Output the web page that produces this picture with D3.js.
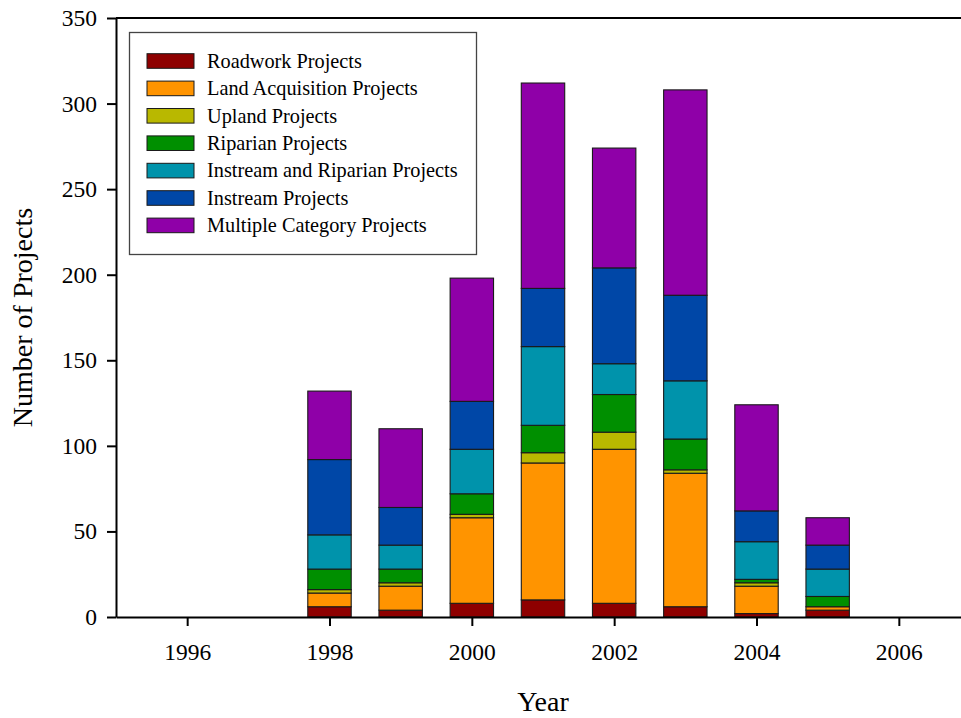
<!DOCTYPE html>
<html>
<head>
<meta charset="utf-8">
<script src="https://cdn.jsdelivr.net/npm/d3@7"></script>
<style>
  html, body { margin: 0; padding: 0; background: #fff; }
  svg text { font-family: "Liberation Serif", "Times New Roman", serif; fill: #000; }
</style>
</head>
<body>
<svg id="chart" width="961" height="718"></svg>
<script>
// Project counts per year, stacked by category (bottom to top)
const years = [1998, 1999, 2000, 2001, 2002, 2003, 2004, 2005];
const categories = [
  "Roadwork Projects",
  "Land Acquisition Projects",
  "Upland Projects",
  "Riparian Projects",
  "Instream and Riparian Projects",
  "Instream Projects",
  "Multiple Category Projects"
];
const roadwork        = [6, 4, 8, 10, 8, 6, 2, 4];
const landAcquisition = [8, 14, 50, 80, 90, 78, 16, 2];
const upland          = [2, 2, 2, 6, 10, 2, 2, 0];
const riparian        = [12, 8, 12, 16, 22, 18, 2, 6];
const instreamRip     = [20, 14, 26, 46, 18, 34, 22, 16];
const instream        = [44, 22, 28, 34, 56, 50, 18, 14];
const multiple        = [40, 46, 72, 120, 70, 120, 62, 16];
const colors = ["#8e0000", "#ff9400", "#b9b800", "#008f00", "#0093ab", "#0047a7", "#8f00a8"];
const xTicks = [1996, 1998, 2000, 2002, 2004, 2006];
const yTicks = [0, 50, 100, 150, 200, 250, 300, 350];

const seriesValues = [roadwork, landAcquisition, upland, riparian, instreamRip, instream, multiple];
const rows = years.map((yr, i) => {
  const r = { year: yr };
  categories.forEach((c, k) => { r[c] = seriesValues[k][i]; });
  return r;
});
const stacked = d3.stack().keys(categories)(rows);

const svg = d3.select("#chart");
const x = d3.scaleLinear().domain([1995, 2007]).range([116, 970]);
const y = d3.scaleLinear().domain([0, 350]).range([617, 18]);
const halfBar = 0.305;
const color = d3.scaleOrdinal().domain(categories).range(colors);

// Stacked bars
svg.append("g")
  .selectAll("g")
  .data(stacked)
  .join("g")
  .attr("fill", d => color(d.key))
  .selectAll("rect")
  .data(d => d)
  .join("rect")
  .attr("x", d => x(d.data.year - halfBar))
  .attr("width", d => x(d.data.year + halfBar) - x(d.data.year - halfBar))
  .attr("y", d => y(d[1]))
  .attr("height", d => y(d[0]) - y(d[1]))
  .attr("stroke", "#1a1a1a")
  .attr("stroke-width", 1.1);

// Frame top line
svg.append("line")
  .attr("x1", x(1995)).attr("x2", x(2007))
  .attr("y1", y(350)).attr("y2", y(350))
  .attr("stroke", "#000").attr("stroke-width", 2);

// X axis
const xAxis = svg.append("g")
  .attr("transform", `translate(0,${y(0)})`)
  .call(d3.axisBottom(x).tickValues(xTicks).tickFormat(d3.format("d"))
    .tickSize(9).tickSizeOuter(0).tickPadding(17));
xAxis.select(".domain").attr("stroke-width", 2);
xAxis.selectAll(".tick line").attr("stroke-width", 2);
xAxis.selectAll(".tick text").attr("font-size", 23.5).attr("font-family", "Liberation Serif");

// Y axis
const yAxis = svg.append("g")
  .attr("transform", `translate(${x(1995)},0)`)
  .call(d3.axisLeft(y).tickValues(yTicks).tickSize(9).tickSizeOuter(0).tickPadding(10));
yAxis.select(".domain").attr("stroke-width", 2);
yAxis.selectAll(".tick line").attr("stroke-width", 2);
yAxis.selectAll(".tick text").attr("font-size", 23.5).attr("font-family", "Liberation Serif");

// Axis titles
svg.append("text")
  .attr("x", (x(1995) + x(2007)) / 2)
  .attr("y", 711)
  .attr("text-anchor", "middle")
  .attr("font-size", 28)
  .text("Year");

svg.append("text")
  .attr("transform", `translate(32,${(y(0) + y(350)) / 2}) rotate(-90)`)
  .attr("text-anchor", "middle")
  .attr("font-size", 28)
  .text("Number of Projects");

// Legend
const legend = svg.append("g");
legend.append("rect")
  .attr("x", 129.5).attr("y", 32.5)
  .attr("width", 347).attr("height", 222)
  .attr("fill", "#fff").attr("stroke", "#444").attr("stroke-width", 1.3);
const items = legend.selectAll("g.item")
  .data(categories)
  .join("g")
  .attr("class", "item")
  .attr("transform", (d, i) => `translate(0,${61 + i * 27.4})`);
items.append("rect")
  .attr("x", 147).attr("y", -7.3)
  .attr("width", 47).attr("height", 14.6)
  .attr("fill", d => color(d))
  .attr("stroke", "#1a1a1a").attr("stroke-width", 1);
items.append("text")
  .attr("x", 207).attr("y", 0).attr("dy", "0.33em")
  .attr("font-size", 20.3)
  .text(d => d);
</script>
</body>
</html>
